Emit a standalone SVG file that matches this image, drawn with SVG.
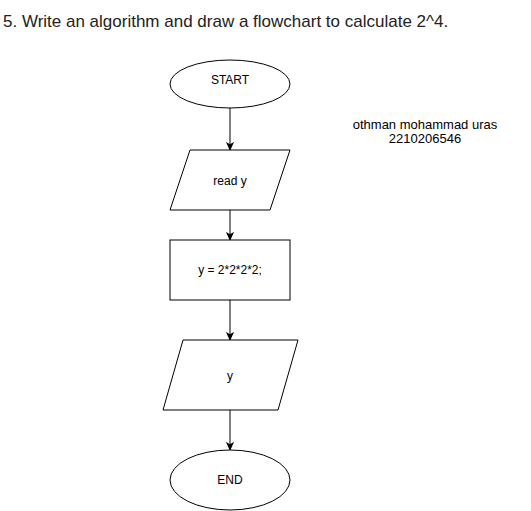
<svg xmlns="http://www.w3.org/2000/svg" width="531" height="511" viewBox="0 0 531 511">
<defs>
<style>
.shape{fill:#fff;stroke:#000;stroke-width:1}
.lbl{font-family:"Liberation Sans",Arial,sans-serif;font-size:12px;fill:#000;text-anchor:middle;dominant-baseline:central}
.note{font-size:13px}
.edge{stroke:#000;stroke-width:1;fill:none;marker-end:url(#arr)}
</style>
<marker id="arr" viewBox="0 0 10 10" refX="9" refY="5" markerWidth="9" markerHeight="9" markerUnits="userSpaceOnUse" orient="auto">
<path d="M0,0.5 L10,5 L0,9.5 L2.5,5 Z" fill="#000"/>
</marker>
</defs>
<rect width="531" height="511" fill="#fff"/>
<text x="3" y="27" font-family="Liberation Sans, Arial, sans-serif" font-size="17" fill="#222">5. Write an algorithm and draw a flowchart to calculate 2^4.</text>
<g id="connectors">
<line class="edge" x1="230" y1="108" x2="230" y2="150"/>
<line class="edge" x1="230" y1="210" x2="230" y2="240"/>
<line class="edge" x1="230" y1="300" x2="230" y2="340"/>
<line class="edge" x1="230" y1="410" x2="230" y2="450"/>
</g>
<g id="start">
<ellipse class="shape" cx="230" cy="84" rx="60" ry="24"/>
<text class="lbl" x="230" y="80">START</text>
</g>
<g id="read">
<polygon class="shape" points="190,150 290,150 270,210 170,210"/>
<text class="lbl" x="230" y="181">read y</text>
</g>
<g id="calc">
<rect class="shape" x="170" y="240" width="120" height="60"/>
<text class="lbl" x="230" y="270">y = 2*2*2*2;</text>
</g>
<g id="output">
<polygon class="shape" points="183,340 298,340 278,410 163,410"/>
<text class="lbl" x="230" y="376">y</text>
</g>
<g id="end">
<ellipse class="shape" cx="230" cy="480" rx="60" ry="30"/>
<text class="lbl" x="230" y="480">END</text>
</g>
<g id="note">
<text class="lbl note" x="425" y="124">othman mohammad uras</text>
<text class="lbl note" x="425" y="138">2210206546</text>
</g>
</svg>
